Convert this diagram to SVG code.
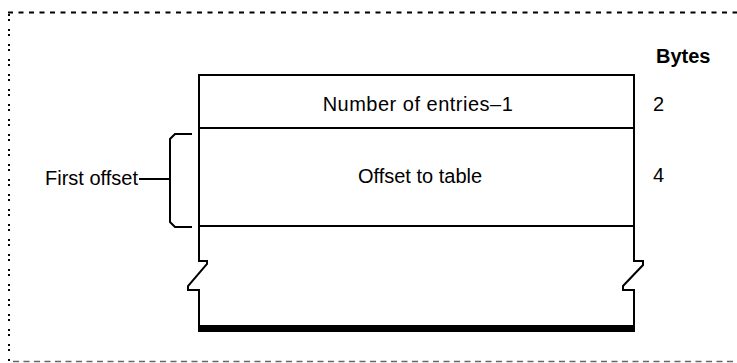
<svg xmlns="http://www.w3.org/2000/svg" width="737" height="363" viewBox="0 0 737 363">
<style>
.ln{fill:none;stroke:#000;stroke-width:2}
.t{font-family:"Liberation Sans",Arial,sans-serif;font-size:20px;fill:#000}
.b{font-weight:bold}
</style>
<rect width="737" height="363" fill="#fff"/>
<g id="frame">
<line x1="8" y1="12.5" x2="737" y2="12.5" stroke="#000" stroke-width="2" stroke-dasharray="5 5.5"/>
<line x1="9" y1="14" x2="9" y2="362" stroke="#000" stroke-width="2" stroke-dasharray="2 3 2 8"/>
<line x1="13" y1="361.5" x2="737" y2="361.5" stroke="#666" stroke-width="1.5" stroke-dasharray="6 4.5"/>
</g>
<g id="header">
<text class="t b" x="656" y="63">Bytes</text>
</g>
<g id="field-entries">
<path class="ln" d="M199,128 V75 H634 V128"/>
<text class="t" x="418" y="111" text-anchor="middle" letter-spacing="0.5">Number of entries–1</text>
<text class="t" x="653" y="111">2</text>
</g>
<g id="field-offset">
<path class="ln" d="M199,128 H634 M199,128 V226 M634,128 V226"/>
<text class="t" x="420" y="183" text-anchor="middle">Offset to table</text>
<text class="t" x="653" y="182">4</text>
</g>
<g id="field-table">
<line class="ln" x1="198" y1="226" x2="635" y2="226"/>
<path class="ln" d="M199,226 V261 H207 V264 L188,286 V290 H199 V326"/>
<path class="ln" d="M634,226 V261 H643 V265 L623,286 V290 H634 V326"/>
<rect x="198" y="325" width="437" height="7" fill="#000"/>
</g>
<g id="label-first-offset">
<text class="t" x="138" y="185" text-anchor="end">First offset</text>
</g>
<g id="connectors">
<path class="ln" d="M192,134 H175 L170,139 V222 L175,227 H192"/>
<line class="ln" x1="139" y1="179" x2="170" y2="179"/>
</g>
</svg>
